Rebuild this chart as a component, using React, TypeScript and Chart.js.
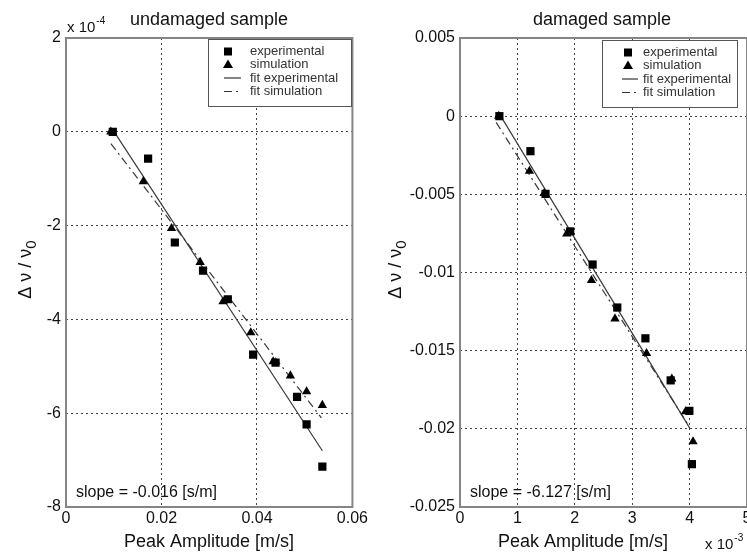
import React, { useEffect, useRef } from "react";
import { Chart, registerables } from "chart.js";

Chart.register(...registerables);

// ---------------- Data ----------------
// Left panel: undamaged sample (y values in units of 1e-4)
const undamagedExpX = [0.0098, 0.0172, 0.0228, 0.0287, 0.0339, 0.0392, 0.0439, 0.0484, 0.0504, 0.0537];
const undamagedExpY = [0, -0.57, -2.36, -2.96, -3.57, -4.75, -4.92, -5.65, -6.24, -7.14];
const undamagedSimX = [0.0094, 0.0162, 0.0221, 0.0281, 0.0329, 0.0387, 0.0434, 0.047, 0.0504, 0.0537];
const undamagedSimY = [0, -1.06, -2.06, -2.78, -3.62, -4.28, -4.9, -5.2, -5.54, -5.83];
const undamagedFitExpX = [0.0101, 0.0537];
const undamagedFitExpY = [0, -6.8];
const undamagedFitSimX = [0.0094, 0.0535];
const undamagedFitSimY = [-0.25, -6.1];

// Right panel: damaged sample (x values in units of 1e-3)
const damagedExpX = [0.686, 1.227, 1.49, 1.92, 2.31, 2.74, 3.23, 3.67, 3.996, 4.04];
const damagedExpY = [0, -0.00224, -0.00497, -0.00737, -0.00949, -0.01224, -0.01421, -0.0169, -0.01885, -0.02226];
const damagedSimX = [0.675, 1.21, 1.466, 1.86, 2.29, 2.7, 3.25, 3.69, 3.93, 4.06];
const damagedSimY = [0, -0.00351, -0.00494, -0.00752, -0.0105, -0.01296, -0.01517, -0.0168, -0.0189, -0.02082];
const damagedFitExpX = [0.71, 4.01];
const damagedFitExpY = [0, -0.02];
const damagedFitSimX = [0.63, 3.97];
const damagedFitSimY = [-0.0004, -0.0197];

// Labels
const legendLabels = ["experimental", "simulation", "fit experimental", "fit simulation"];
const panelTitles = ["undamaged sample", "damaged sample"];
const xAxisLabel = "Peak Amplitude [m/s]";
const slopeTexts = ["slope = -0.016 [s/m]", "slope = -6.127 [s/m]"];

const FONT = "'Liberation Sans', Arial, Helvetica, sans-serif";
const zip = (xs: number[], ys: number[]) => xs.map((x, i) => ({ x, y: ys[i] }));
const fmt = (v: number) => String(parseFloat(Number(v).toFixed(4)));

type Panel = {
  canvasWidth: number;
  yAxisWidth: number;
  padRight: number;
  xMin: number; xMax: number; xStep: number;
  yMin: number; yMax: number; yStep: number;
  exp: { x: number; y: number }[];
  sim: { x: number; y: number }[];
  fitExp: { x: number; y: number }[];
  fitSim: { x: number; y: number }[];
  title: string;
  titleX: number;
  xLabelX: number;
  slope: string;
  slopeX: number;
  legend: { x: number; y: number; w: number; h: number; marker: number; line0: number; line1: number; text: number };
  expo: { x: number; y: number; sup: string; axis: "x" | "y" };
};

function panelPlugin(p: Panel) {
  return {
    id: "panelDecor",
    afterDatasetsDraw(chart: any) {
      const { ctx, chartArea: a } = chart;
      ctx.save();
      ctx.strokeStyle = "#858585";
      ctx.lineWidth = 2;
      ctx.strokeRect(a.left, a.top, a.right - a.left, a.bottom - a.top);
      ctx.restore();
    },
    afterDraw(chart: any) {
      const { ctx, chartArea: a } = chart;
      ctx.save();
      ctx.fillStyle = "#111";
      // Title
      ctx.font = `18px ${FONT}`;
      ctx.textAlign = "center";
      ctx.textBaseline = "alphabetic";
      ctx.fillText(p.title, p.titleX, 25);
      // X label
      ctx.fillText(xAxisLabel, p.xLabelX, 547);
      // Y label with subscript
      ctx.save();
      const cy = (a.top + a.bottom) / 2 - 3;
      ctx.translate(26, cy);
      ctx.rotate(-Math.PI / 2);
      ctx.font = `18px ${FONT}`;
      const main = "\u0394 \u03bd / \u03bd";
      const wMain = ctx.measureText(main).width;
      ctx.font = `15px ${FONT}`;
      const wSub = ctx.measureText("0").width;
      const start = -(wMain + wSub) / 2;
      ctx.textAlign = "left";
      ctx.textBaseline = "middle";
      ctx.font = `18px ${FONT}`;
      ctx.fillText(main, start, 0);
      ctx.font = `15px ${FONT}`;
      ctx.fillText("0", start + wMain, 6);
      ctx.restore();
      // Exponent
      ctx.textAlign = "left";
      ctx.textBaseline = "alphabetic";
      ctx.font = `15px ${FONT}`;
      ctx.fillText("x 10", p.expo.x, p.expo.y);
      const wx = ctx.measureText("x 10").width;
      ctx.font = `10px ${FONT}`;
      ctx.fillText(p.expo.sup, p.expo.x + wx + 1, p.expo.y - 8);
      // Slope
      ctx.font = `16px ${FONT}`;
      ctx.fillText(p.slope, p.slopeX, 497);
      // Legend
      const L = p.legend;
      ctx.fillStyle = "#fff";
      ctx.fillRect(L.x, L.y, L.w, L.h);
      ctx.strokeStyle = "#555";
      ctx.lineWidth = 1;
      ctx.strokeRect(L.x + 0.5, L.y + 0.5, L.w, L.h);
      const rows = [12.5, 25.5, 39, 52.5];
      ctx.fillStyle = "#000";
      // square
      ctx.fillRect(L.x + L.marker - 4, L.y + rows[0] - 4, 8, 8);
      // triangle
      const ty = L.y + rows[1];
      ctx.beginPath();
      ctx.moveTo(L.x + L.marker, ty - 5);
      ctx.lineTo(L.x + L.marker + 5, ty + 3.5);
      ctx.lineTo(L.x + L.marker - 5, ty + 3.5);
      ctx.closePath();
      ctx.fill();
      // line samples
      ctx.strokeStyle = "#333";
      ctx.lineWidth = 1.2;
      ctx.beginPath();
      ctx.moveTo(L.x + L.line0, L.y + rows[2]);
      ctx.lineTo(L.x + L.line1, L.y + rows[2]);
      ctx.stroke();
      ctx.setLineDash([8, 4, 2, 4]);
      ctx.beginPath();
      ctx.moveTo(L.x + L.line0, L.y + rows[3]);
      ctx.lineTo(L.x + L.line1, L.y + rows[3]);
      ctx.stroke();
      ctx.setLineDash([]);
      ctx.fillStyle = "#333";
      ctx.font = `13px ${FONT}`;
      ctx.textBaseline = "middle";
      legendLabels.forEach((t, i) => ctx.fillText(t, L.x + L.text, L.y + rows[i]));
      ctx.restore();
    },
  };
}

function makeChart(canvas: HTMLCanvasElement, p: Panel) {
  const tickFont = { family: FONT, size: 16 };
  return new Chart(canvas, {
    type: "scatter",
    data: {
      datasets: [
        {
          label: legendLabels[0],
          data: p.exp,
          pointStyle: "rect",
          pointRadius: 5.8,
          backgroundColor: "#000",
          borderColor: "#000",
          borderWidth: 0,
          showLine: false,
          order: 1,
        },
        {
          label: legendLabels[1],
          data: p.sim,
          pointStyle: "triangle",
          pointRadius: 5.4,
          backgroundColor: "#000",
          borderColor: "#000",
          borderWidth: 0,
          showLine: false,
          order: 2,
        },
        {
          label: legendLabels[2],
          data: p.fitExp,
          showLine: true,
          pointRadius: 0,
          borderColor: "#3a3a3a",
          borderWidth: 1.2,
          order: 3,
        },
        {
          label: legendLabels[3],
          data: p.fitSim,
          showLine: true,
          pointRadius: 0,
          borderColor: "#3a3a3a",
          borderWidth: 1.2,
          borderDash: [8, 4, 2, 4],
          order: 4,
        },
      ],
    },
    options: {
      responsive: false,
      animation: false,
      events: [],
      layout: { padding: { top: 38, right: p.padRight, left: 0, bottom: 0 } },
      plugins: { legend: { display: false }, tooltip: { enabled: false }, title: { display: false } },
      scales: {
        x: {
          type: "linear",
          min: p.xMin,
          max: p.xMax,
          ticks: {
            stepSize: p.xStep,
            callback: (v: any) => fmt(v),
            font: tickFont,
            color: "#111",
            padding: 2,
            maxRotation: 0,
            autoSkip: false,
          },
          grid: { color: "#444", lineWidth: 1, drawTicks: false },
          border: { display: false, dash: [2, 3] },
          afterFit: (s: any) => {
            s.height = 47;
          },
        },
        y: {
          type: "linear",
          min: p.yMin,
          max: p.yMax,
          ticks: {
            stepSize: p.yStep,
            callback: (v: any) => fmt(v),
            font: tickFont,
            color: "#111",
            padding: 5,
            autoSkip: false,
          },
          grid: { color: "#444", lineWidth: 1, drawTicks: false },
          border: { display: false, dash: [2, 3] },
          afterFit: (s: any) => {
            s.width = p.yAxisWidth;
          },
        },
      },
    } as any,
    plugins: [panelPlugin(p) as any],
  });
}

const leftPanel: Panel = {
  canvasWidth: 370,
  yAxisWidth: 66,
  padRight: 17,
  xMin: 0, xMax: 0.06, xStep: 0.02,
  yMin: -8, yMax: 2, yStep: 2,
  exp: zip(undamagedExpX, undamagedExpY),
  sim: zip(undamagedSimX, undamagedSimY),
  fitExp: zip(undamagedFitExpX, undamagedFitExpY),
  fitSim: zip(undamagedFitSimX, undamagedFitSimY),
  title: panelTitles[0],
  titleX: 209,
  xLabelX: 209,
  slope: slopeTexts[0],
  slopeX: 76,
  legend: { x: 208, y: 39, w: 143, h: 67, marker: 20, line0: 16, line1: 33, text: 42 },
  expo: { x: 67, y: 32, sup: "-4", axis: "y" },
};

const rightPanel: Panel = {
  canvasWidth: 420,
  yAxisWidth: 90,
  padRight: 43,
  xMin: 0, xMax: 5, xStep: 1,
  yMin: -0.025, yMax: 0.005, yStep: 0.005,
  exp: zip(damagedExpX, damagedExpY),
  sim: zip(damagedSimX, damagedSimY),
  fitExp: zip(damagedFitExpX, damagedFitExpY),
  fitSim: zip(damagedFitSimX, damagedFitSimY),
  title: panelTitles[1],
  titleX: 232,
  xLabelX: 213,
  slope: slopeTexts[1],
  slopeX: 100,
  legend: { x: 232, y: 40, w: 135, h: 67, marker: 26, line0: 20, line1: 36, text: 41 },
  expo: { x: 335, y: 549, sup: "-3", axis: "x" },
};

export default function App() {
  const leftRef = useRef<HTMLCanvasElement | null>(null);
  const rightRef = useRef<HTMLCanvasElement | null>(null);

  useEffect(() => {
    const c1 = makeChart(leftRef.current!, leftPanel);
    const c2 = makeChart(rightRef.current!, rightPanel);
    return () => {
      c1.destroy();
      c2.destroy();
    };
  }, []);

  return (
    <div
      style={{
        position: "absolute",
        left: 0,
        top: 0,
        width: 747,
        height: 554,
        overflow: "hidden",
        background: "#fff",
      }}
    >
      <canvas
        ref={leftRef}
        width={370}
        height={554}
        style={{ position: "absolute", left: 0, top: 0, width: 370, height: 554, display: "block" }}
      />
      <canvas
        ref={rightRef}
        width={420}
        height={554}
        style={{ position: "absolute", left: 370, top: 0, width: 420, height: 554, display: "block" }}
      />
    </div>
  );
}
